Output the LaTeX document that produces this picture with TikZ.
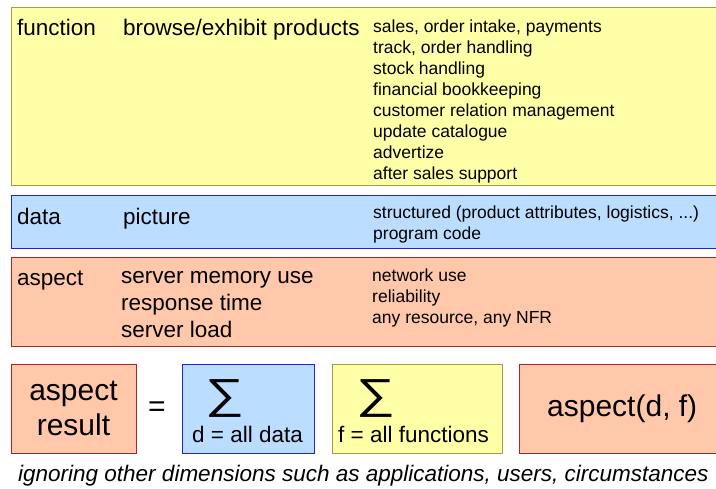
\documentclass[tikz,border=0pt]{standalone}
\usepackage{fontspec}
\setmainfont{Liberation Sans}
\definecolor{funfill}{HTML}{FFFFA8}
\definecolor{funline}{HTML}{A0A040}
\definecolor{datfill}{HTML}{BBDDFF}
\definecolor{datline}{HTML}{2020E0}
\definecolor{aspfill}{HTML}{FFC8AA}
\definecolor{aspline}{HTML}{A02828}
\begin{document}
\begin{tikzpicture}[x=1pt,y=-1pt,
  panel/.style={draw,line width=1pt},
  big/.style={anchor=base west,inner sep=0pt,font=\fontsize{22.5}{27}\selectfont},
  small/.style={anchor=base west,inner sep=0pt,font=\fontsize{17.5}{21}\selectfont},
  huge/.style={inner sep=0pt,font=\fontsize{30}{33}\selectfont},
  sigma/.style={inner sep=0pt,font=\fontsize{42}{42}\selectfont}]
\useasboundingbox(0,0) rectangle (716,489);
\clip(0,0) rectangle (716,489);
%function panel
\draw[panel,draw=funline,fill=funfill](11,8) rectangle (730,186);
\node[big](funlbl) at(17,36){function};
\node[big](funmain) at(123,36){browse/exhibit products};
\foreach \t [count=\i from 0] in {{sales, order intake, payments},{track, order handling},{stock handling},{financial bookkeeping},{customer relation management},{update catalogue},{advertize},{after sales support}}
  \node[small](fun\i) at(373,33+21*\i){\t};
%data panel
\draw[panel,draw=datline,fill=datfill](11,196) rectangle (730,249);
\node[big](datlbl) at(17,225){data};
\node[big](datmain) at(123,225){picture};
\node[small](dat0) at(373,219){structured (product attributes, logistics, ...)};
\node[small](dat1) at(373,240){program code};
%aspect panel
\draw[panel,draw=aspline,fill=aspfill](11,258) rectangle (730,347);
\node[big](asplbl) at(17,286){aspect};
\node[big](asp0) at(121,284){server memory use};
\node[big](asp1) at(121,311){response time};
\node[big](asp2) at(121,338){server load};
\node[small](asp3) at(372,282){network use};
\node[small](asp4) at(372,303){reliability};
\node[small](asp5) at(372,324){any resource, any NFR};
%formula
\draw[panel,draw=aspline,fill=aspfill](11,365) rectangle (136,454);
\node[huge,anchor=base](res0) at(73.5,401){aspect};
\node[huge,anchor=base](res1) at(73.5,436){result};
\node[huge](eq) at(157,409){=};
\draw[panel,draw=datline,fill=datfill](182,365) rectangle (314,454);
\node[sigma](sumd) at(224.5,399){\scalebox{1.3}[1]{∑}};
\node[big](sumdlbl) at(192,443){d = all data};
\draw[panel,draw=funline,fill=funfill](332,365) rectangle (502,454);
\node[sigma](sumf) at(376,399){\scalebox{1.3}[1]{∑}};
\node[big](sumflbl) at(338,443){f = all functions};
\draw[panel,draw=aspline,fill=aspfill](519,365) rectangle (730,454);
\node[huge,anchor=base west](term) at(547,417){aspect(d, f)};
%caption
\node[big,font=\fontsize{22.5}{27}\selectfont\itshape](note) at(18,482){ignoring other dimensions such as applications, users, circumstances};
\end{tikzpicture}
\end{document}
